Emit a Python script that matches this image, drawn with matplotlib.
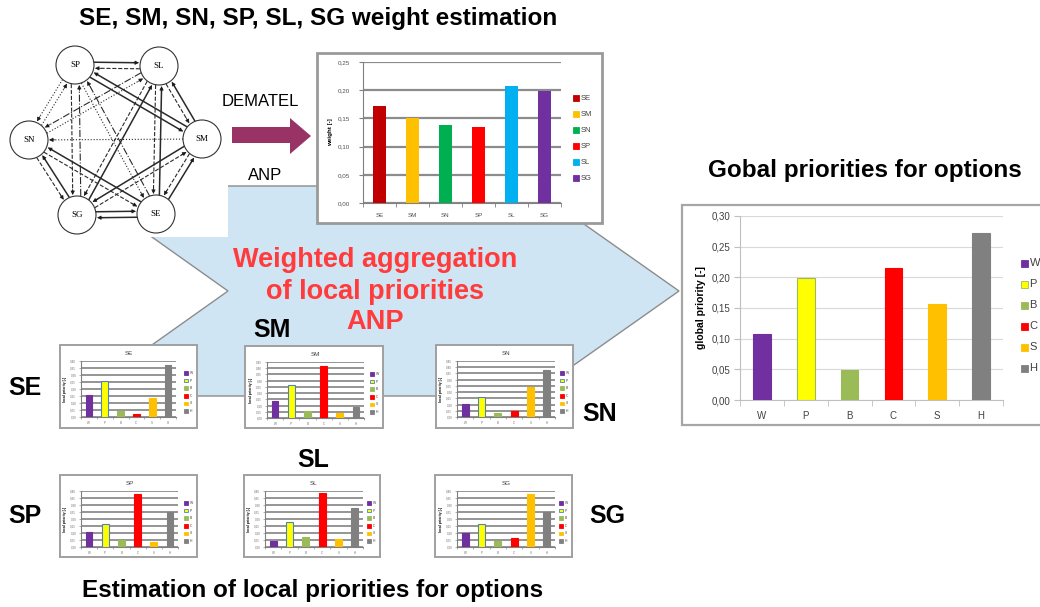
import numpy as np
import matplotlib
matplotlib.use("Agg")
import matplotlib.pyplot as plt
from matplotlib.patches import Polygon, Rectangle, Circle, FancyArrowPatch

plt.rcParams["font.family"] = ["Liberation Sans", "DejaVu Sans"]

W, H = 1040, 607

# criteria weights (DEMATEL / ANP)
criteria = ["SE", "SM", "SN", "SP", "SL", "SG"]
criteria_weights = [0.172, 0.151, 0.138, 0.135, 0.207, 0.199]
criteria_colors = ["#c00000", "#ffc000", "#00b050", "#ff0000", "#00b0f0", "#7030a0"]

# options and their global priorities
options = ["W", "P", "B", "C", "S", "H"]
option_colors = ["#7030a0", "#ffff00", "#9bbb59", "#ff0000", "#ffc000", "#808080"]
global_priority = [0.107, 0.199, 0.049, 0.216, 0.156, 0.272]

# local priorities of options for each criterion
local_se = [0.157, 0.260, 0.043, 0.021, 0.138, 0.371]
local_sm = [0.136, 0.265, 0.056, 0.418, 0.043, 0.091]
local_sn = [0.104, 0.163, 0.035, 0.048, 0.239, 0.378]
local_sp = [0.109, 0.162, 0.050, 0.379, 0.038, 0.252]
local_sl = [0.043, 0.176, 0.074, 0.388, 0.057, 0.281]
local_sg = [0.098, 0.162, 0.045, 0.062, 0.379, 0.252]

fig = plt.figure(figsize=(W / 100, H / 100), dpi=100)
ax0 = fig.add_axes([0, 0, 1, 1], zorder=0)
ax0.set_xlim(0, W)
ax0.set_ylim(H, 0)
ax0.axis("off")


def px_axes(l, t, r, b):
    return fig.add_axes([l / W, 1 - b / H, (r - l) / W, (b - t) / H], zorder=3)


def box(l, t, r, b, ec="#a3a3a3", lw=1.6):
    ax0.add_patch(Rectangle((l, t), r - l, b - t, fc="white", ec=ec, lw=lw, zorder=5))


def legend_px(x, y0, dy, size, colors, labels, fs, edges=None):
    for i, (c, lab) in enumerate(zip(colors, labels)):
        y = y0 + i * dy
        ec = edges[i] if edges else c
        ax0.add_patch(Rectangle((x - size / 2, y - size / 2), size, size, fc=c, ec=ec,
                                lw=0.6, zorder=6))
        ax0.text(x + size / 2 + 2, y, lab, fontsize=fs, va="center", ha="left",
                 color="#404040", zorder=6)


def comma(v):
    return f"{v:.2f}".replace(".", ",")


# big aggregation arrow
ax0.add_patch(Polygon([(80, 186), (530, 186), (679, 291), (530, 396), (80, 396), (228, 291)],
                      closed=True, fc="#d0e5f3", ec="#8c8c8c", lw=1.0, zorder=1))

# network of criteria
ax0.add_patch(Rectangle((0, 40), 228, 197, fc="white", ec="none", zorder=2))
pos = {"SP": (75, 65), "SL": (159, 66), "SN": (29, 140), "SM": (202, 139),
       "SG": (77, 215), "SE": (156, 214)}
R = 19
edges = [
    ("SP", "SL", "-", -3), ("SL", "SP", "--", -3),
    ("SM", "SP", "-", 3), ("SP", "SM", "-", 3),
    ("SM", "SL", "-", 3), ("SL", "SM", "--", 3),
    ("SE", "SM", "-", 3), ("SM", "SE", "--", 3),
    ("SG", "SE", "-", -3), ("SE", "SG", "-", -3),
    ("SG", "SN", "-", 3), ("SN", "SG", "--", 3),
    ("SE", "SN", "-", 3), ("SN", "SE", "--", 3),
    ("SM", "SG", "-", 3), ("SG", "SM", "--", 3),
    ("SE", "SL", "-", 3), ("SL", "SE", "--", 3),
    ("SG", "SL", "-", 3), ("SL", "SG", "--", 3),
    ("SP", "SN", ":", 3), ("SN", "SP", ":", 3),
    ("SM", "SN", ":", 0),
    ("SL", "SN", "-.", 3), ("SN", "SL", ":", 3),
    ("SP", "SG", "--", 4), ("SG", "SP", "-.", 4),
    ("SP", "SE", ":", 3), ("SE", "SP", "-.", 3),
]
for a, b, ls, off in edges:
    p = np.array(pos[a], float)
    q = np.array(pos[b], float)
    u = (q - p) / np.hypot(*(q - p))
    n = np.array([-u[1], u[0]])
    s = p + u * R + n * off
    e = q - u * (R + 1) + n * off
    lw = 1.1 if ls == "-" else 0.8
    ax0.plot([s[0], e[0] - u[0] * 3], [s[1], e[1] - u[1] * 3], ls=ls, lw=lw,
             color="#2a2a2a", zorder=3)
    ax0.add_patch(FancyArrowPatch(e - u * 6, e, arrowstyle="-|>", mutation_scale=6,
                                  color="#1a1a1a", lw=0.5, shrinkA=0, shrinkB=0, zorder=3))
for name, (x, y) in pos.items():
    ax0.add_patch(Circle((x, y), R, fc="white", ec="#333333", lw=0.8, zorder=4))
    ax0.text(x, y, name, fontsize=6.5, ha="center", va="center",
             family="Liberation Serif", zorder=5)

# DEMATEL arrow
ax0.add_patch(Polygon([(232, 127), (290, 127), (290, 118), (311, 136), (290, 154),
                       (290, 143), (232, 143)], closed=True, fc="#993366", ec="none",
                      zorder=3))
ax0.text(260, 102, "DEMATEL", fontsize=12, ha="center", va="center", zorder=6)
ax0.text(265, 175, "ANP", fontsize=12, ha="center", va="center", zorder=6)

# titles and labels
ax0.text(318, 18, "SE, SM, SN, SP, SL, SG weight estimation", fontsize=17.5,
         weight="bold", ha="center", va="center")
ax0.text(865, 170, "Gobal priorities for options", fontsize=17.5, weight="bold",
         ha="center", va="center")
ax0.text(313, 591, "Estimation of local priorities for options", fontsize=17.5,
         weight="bold", ha="center", va="center")
for line, y in [("Weighted aggregation", 260), ("of local priorities", 292), ("ANP", 322)]:
    ax0.text(375, y, line, fontsize=19.5, weight="bold", color="#ff3b3b",
             ha="center", va="center", zorder=6)
for lab, x, y in [("SE", 25, 388), ("SM", 272, 330), ("SN", 600, 414),
                  ("SP", 25, 516), ("SL", 313, 460), ("SG", 607, 516)]:
    ax0.text(x, y, lab, fontsize=18, weight="bold", ha="center", va="center", zorder=6)

xs = np.arange(6)

# criteria weight chart
box(317, 53, 602, 223, ec="#9a9a9a", lw=2)
ax1 = px_axes(363, 62, 561, 203)
ax1.bar(xs, criteria_weights, width=0.42, color=criteria_colors, zorder=3)
ax1.set_xlim(-0.5, 5.5)
ax1.set_ylim(0, 0.25)
ax1.set_yticks(np.arange(0, 0.2501, 0.05))
ax1.set_yticklabels([comma(v) for v in np.arange(0, 0.2501, 0.05)], fontsize=4.5,
                    color="#505050")
ax1.set_xticks(xs)
ax1.set_xticklabels(criteria, fontsize=4.5, color="#505050")
ax1.set_xticks(np.arange(-0.5, 6, 1), minor=True)
ax1.tick_params(axis="x", which="major", length=0, pad=7)
ax1.tick_params(axis="x", which="minor", length=3, color="#808080")
ax1.tick_params(axis="y", length=3, color="#808080", pad=6)
ax1.yaxis.grid(True, color="#8c8c8c", lw=1.6)
ax1.set_axisbelow(True)
for sp in ["top", "right"]:
    ax1.spines[sp].set_visible(False)
ax1.spines["left"].set_color("#808080")
ax1.spines["bottom"].set_color("#808080")
ax1.set_ylabel("weight [-]", fontsize=4.5, weight="bold", labelpad=4)
ax1.patch.set_alpha(0)
legend_px(576, 98, 16, 5.5, criteria_colors, criteria, 5.5)

# global priority chart
box(682, 205, 1048, 425, ec="#a6a6a6", lw=1.6)
ax2 = px_axes(740, 216, 1003, 400)
ax2.bar(xs, global_priority, width=0.4, color=option_colors,
        edgecolor=["#7030a0", "#9bbb59", "#9bbb59", "#ff0000", "#ffc000", "#808080"],
        lw=0.8, zorder=3)
ax2.set_xlim(-0.5, 5.5)
ax2.set_ylim(0, 0.30)
ticks = np.arange(0, 0.3001, 0.05)
ax2.set_yticks(ticks)
ax2.set_yticklabels([comma(v) for v in ticks], fontsize=7, color="#404040")
ax2.set_xticks(xs)
ax2.set_xticklabels(options, fontsize=7, color="#404040")
ax2.set_xticks(np.arange(-0.5, 6, 1), minor=True)
ax2.tick_params(axis="x", which="major", length=0, pad=8)
ax2.tick_params(axis="x", which="minor", length=4, color="#bfbfbf")
ax2.tick_params(axis="y", length=4, color="#bfbfbf", pad=3)
ax2.yaxis.grid(True, color="#d9d9d9", lw=0.8)
ax2.set_axisbelow(True)
for sp in ["top", "right"]:
    ax2.spines[sp].set_visible(False)
ax2.spines["left"].set_color("#bfbfbf")
ax2.spines["bottom"].set_color("#bfbfbf")
ax2.set_ylabel("global priority [-]", fontsize=7.5, weight="bold", labelpad=4)
ax2.patch.set_alpha(0)
legend_px(1024, 263, 21, 7, option_colors, options, 8,
          edges=["#7030a0", "#9bbb59", "#9bbb59", "#ff0000", "#ffc000", "#808080"])

# local priority charts
small = [
    ("SE", local_se, 0.40, (60, 345, 197, 428), (81, 361, 176, 417)),
    ("SM", local_sm, 0.45, (245, 346, 383, 428), (267, 362, 364, 418)),
    ("SN", local_sn, 0.45, (436, 345, 573, 428), (457, 361, 555, 417)),
    ("SP", local_sp, 0.40, (60, 475, 197, 557), (81, 491, 178, 547)),
    ("SL", local_sl, 0.40, (244, 475, 380, 557), (265, 491, 363, 547)),
    ("SG", local_sg, 0.40, (435, 475, 572, 557), (457, 491, 555, 547)),
]
for name, vals, ymax, bx, pa in small:
    box(*bx, ec="#a0a0a0", lw=1.4)
    ax = px_axes(*pa)
    ax.bar(xs, vals, width=0.42, color=option_colors,
           edgecolor=["#7030a0", "#4f81bd", "#9bbb59", "#ff0000", "#ffc000", "#808080"],
           lw=0.8, zorder=3)
    ax.set_xlim(-0.5, 5.5)
    ax.set_ylim(0, ymax)
    t = np.arange(0, ymax + 0.001, 0.05)
    ax.set_yticks(t)
    ax.set_yticklabels([comma(v) for v in t], fontsize=2.2, color="#707070")
    ax.set_xticks(xs)
    ax.set_xticklabels(options, fontsize=2.2, color="#707070")
    ax.set_xticks(np.arange(-0.5, 6, 1), minor=True)
    ax.tick_params(axis="x", which="major", length=0, pad=3)
    ax.tick_params(axis="x", which="minor", length=1.5, color="#909090", width=0.5)
    ax.tick_params(axis="y", length=1.5, color="#909090", width=0.5, pad=2)
    ax.yaxis.grid(True, color="#8c8c8c", lw=1.3)
    ax.set_axisbelow(True)
    for sp in ["top", "right"]:
        ax.spines[sp].set_visible(False)
    ax.spines["left"].set_color("#808080")
    ax.spines["bottom"].set_color("#808080")
    ax.set_ylabel("local priority [-]", fontsize=2.4, weight="bold", labelpad=2)
    ax.set_title(name, fontsize=4.5, color="#404040", pad=4)
    ax.patch.set_alpha(0)
    legend_px(bx[2] - 11, bx[1] + 28, 7.6, 3.5, option_colors, options, 2.4,
              edges=["#7030a0", "#4f81bd", "#9bbb59", "#ff0000", "#ffc000", "#808080"])

fig.savefig("out.png", dpi=100)
